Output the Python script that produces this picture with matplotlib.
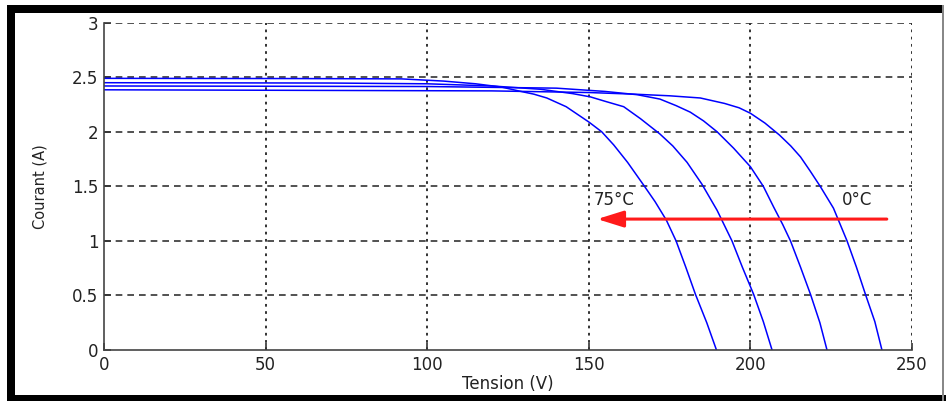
import matplotlib
matplotlib.use('Agg')
import matplotlib.pyplot as plt
from matplotlib.patches import Rectangle

# courbes I-V pour 4 temperatures (75, 50, 25, 0 degC)
v_75 = [0, 60, 92, 105, 115, 123, 129, 133, 137, 143, 150, 154, 157.7, 162, 167, 170.5,
        174, 177, 180, 183, 186.5, 189.5]
i_75 = [2.49, 2.488, 2.485, 2.465, 2.44, 2.41, 2.37, 2.345, 2.31, 2.23, 2.09, 2.0, 1.88,
        1.72, 1.51, 1.36, 1.19, 1.0, 0.76, 0.51, 0.25, 0.0]

v_50 = [0, 70, 100, 120, 135, 145, 150.5, 155, 160.8, 166, 172, 176, 180.4, 185, 189.7,
        194.3, 197.5, 201, 204, 206.7]
i_50 = [2.45, 2.447, 2.44, 2.42, 2.39, 2.35, 2.32, 2.28, 2.23, 2.12, 1.98, 1.87, 1.72,
        1.52, 1.28, 1.0, 0.76, 0.51, 0.26, 0.0]

v_25 = [0, 100, 140, 155, 165, 172, 177, 181.4, 185.5, 189.7, 194.8, 200, 204, 207.2,
        210, 212.4, 215.5, 218.6, 221.5, 223.7]
i_25 = [2.42, 2.415, 2.40, 2.37, 2.34, 2.30, 2.24, 2.18, 2.10, 2.0, 1.85, 1.68, 1.50,
        1.31, 1.15, 1.0, 0.76, 0.51, 0.25, 0.0]

v_0 = [0, 120, 150, 164, 175, 184.5, 192, 196.5, 200, 204.5, 209, 212.5, 215.5, 218.5,
       221.6, 225.7, 227.8, 229.9, 232.8, 235.6, 238.5, 240.7]
i_0 = [2.385, 2.375, 2.36, 2.345, 2.33, 2.31, 2.26, 2.22, 2.17, 2.08, 1.97, 1.87, 1.77,
       1.64, 1.50, 1.30, 1.15, 1.0, 0.76, 0.51, 0.26, 0.0]

xticks = [0, 50, 100, 150, 200, 250]
yticks = [0, 0.5, 1, 1.5, 2, 2.5, 3]
ytick_labels = ['0', '0.5', '1', '1.5', '2', '2.5', '3']

W, H = 946, 401
fig = plt.figure(figsize=(W / 100, H / 100), dpi=100)
fig.patch.set_facecolor('white')
ax = fig.add_axes([104 / W, 1 - 350 / H, (912 - 104) / W, (350 - 22.7) / H])

for v, i in [(v_75, i_75), (v_50, i_50), (v_25, i_25), (v_0, i_0)]:
    ax.plot(v, i, color='#0000ff', linewidth=1.1)

ax.set_xlim(0, 250)
ax.set_ylim(0, 3)
ax.set_xticks(xticks)
ax.set_yticks(yticks)
ax.set_yticklabels(ytick_labels)

# grille : verticale en pointilles, horizontale en tirets
for x in xticks[1:]:
    ax.axvline(x, color='#222222', linestyle=(0, (1.5, 2.5)), linewidth=1.3, zorder=0)
for y in yticks[1:]:
    ax.axhline(y, color='#333333', linestyle=(0, (4, 3)), linewidth=1.2, zorder=0)

for side in ['top', 'right']:
    ax.spines[side].set_visible(False)
for side in ['left', 'bottom']:
    ax.spines[side].set_color('#444444')
    ax.spines[side].set_linewidth(1.2)
ax.tick_params(direction='in', length=5, width=1.2, color='#333333',
               labelsize=12, labelcolor='#222222', pad=4)

ax.set_xlabel('Tension (V)', fontsize=12, color='#222222', labelpad=1)
ax.set_ylabel('Courant (A)', fontsize=10.5, color='#222222', labelpad=18)

# fleche rouge : effet de la temperature
ax.annotate('', xy=(152.6, 1.2), xytext=(242.2, 1.2),
            arrowprops=dict(arrowstyle='-|>,head_length=1.6,head_width=0.5',
                            color='#ff1a1a', linewidth=2.2, shrinkA=0, shrinkB=0))
ax.text(151.5, 1.375, '75°C', fontsize=12, color='#222222', va='center', ha='left')
ax.text(228.4, 1.375, '0°C', fontsize=12, color='#222222', va='center', ha='left')

# cadre noir autour de la figure
fig.add_artist(Rectangle((7 / W, 0), 8 / W, (H - 5) / H, transform=fig.transFigure,
                         color='black', lw=0))
fig.add_artist(Rectangle((7 / W, 1 - 13 / H), (943 - 7) / W, 8 / H, transform=fig.transFigure,
                         color='black', lw=0))
fig.add_artist(Rectangle((7 / W, 0), (W - 7) / W, 6 / H, transform=fig.transFigure,
                         color='black', lw=0))
fig.add_artist(Rectangle((942 / W, 0), 1.5 / W, (H - 5) / H, transform=fig.transFigure,
                         color='#888888', lw=0))

fig.savefig('out.png', dpi=100)
plt.close(fig)
